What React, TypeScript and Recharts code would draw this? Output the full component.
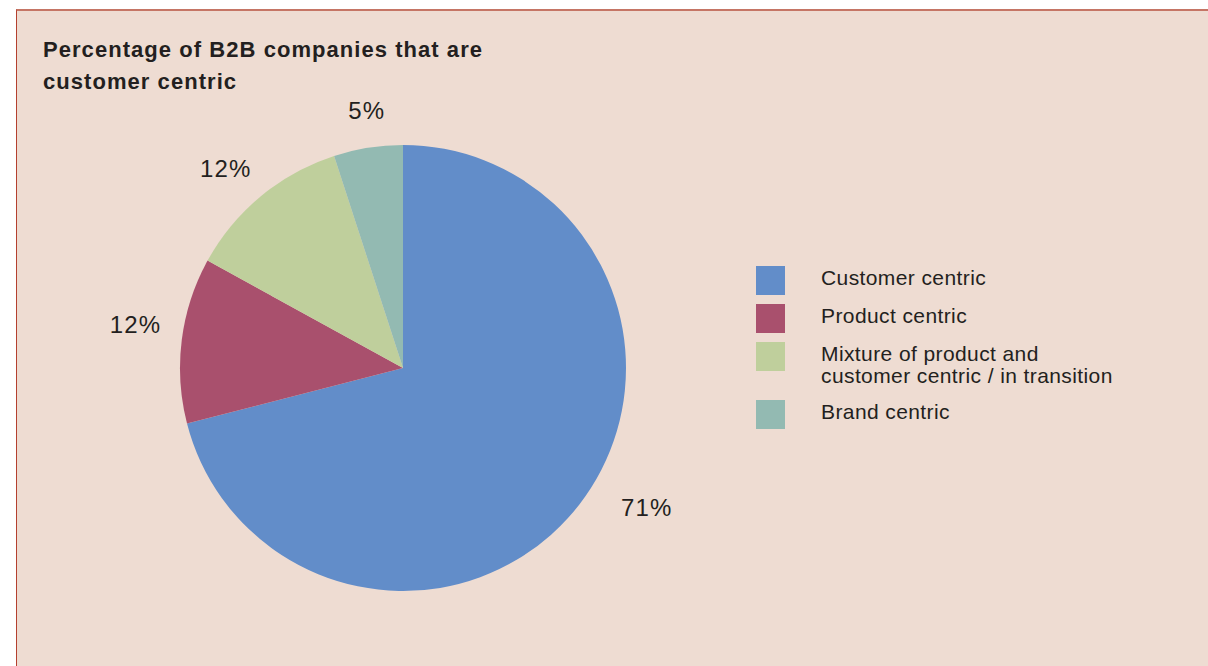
import React from "react";
import { PieChart, Pie, Cell, Legend } from "recharts";

const categories = [
  "Customer centric",
  "Product centric",
  "Mixture of product and\ncustomer centric / in transition",
  "Brand centric",
];
const shares = [71, 12, 12, 5];
const colors = ["#628dc9", "#a9506d", "#bfcf9c", "#93bab2"];

// label placement tweaks (distance beyond the rim, angle shift in degrees)
const labelGap = [58, 48, 44, 37];
const labelShift = [8, -2, 2, -1];

const data = categories.map((name, i) => ({ name, value: shares[i] }));

const RAD = Math.PI / 180;
const FONT = "'Liberation Sans', Arial, Helvetica, sans-serif";

const renderLabel = (props: any) => {
  const { cx, cy, midAngle, outerRadius, index, value } = props;
  const r = outerRadius + labelGap[index];
  const a = (midAngle + labelShift[index]) * RAD;
  const x = cx + r * Math.cos(-a);
  const y = cy + r * Math.sin(-a);
  return (
    <text
      x={x}
      y={y}
      fill="#231f20"
      fontSize={24}
      letterSpacing={1.2}
      fontFamily={FONT}
      textAnchor="middle"
      dominantBaseline="central"
    >
      {value}%
    </text>
  );
};

const LegendBox = () => (
  <div style={{ fontFamily: FONT, fontSize: 21, letterSpacing: 0.4, color: "#231f20" }}>
    {data.map((d, i) => {
      const lines = d.name.split("\n");
      return (
        <div
          key={d.name}
          style={{
            display: "flex",
            alignItems: "flex-start",
            height: lines.length > 1 ? 58 : 38,
          }}
        >
          <div
            style={{
              width: 29,
              height: 29,
              background: colors[i],
              flex: "none",
            }}
          />
          <div style={{ marginLeft: 36, lineHeight: "22px", paddingTop: 1 }}>
            {lines.map((l) => (
              <div key={l} style={{ whiteSpace: "nowrap" }}>{l}</div>
            ))}
          </div>
        </div>
      );
    })}
  </div>
);

export default function App() {
  return (
    <div
      style={{
        position: "fixed",
        left: 16,
        top: 9,
        width: 1192,
        height: 657,
        boxSizing: "border-box",
        background: "#eedcd2",
        borderLeft: "1px solid #b4402f",
        borderTop: "2px solid #c57565",
        overflow: "hidden",
      }}
    >
      <div
        style={{
          position: "absolute",
          left: 26,
          top: 23,
          fontFamily: FONT,
          fontWeight: "bold",
          fontSize: 22,
          letterSpacing: 1.05,
          lineHeight: "32px",
          color: "#231f20",
          whiteSpace: "nowrap",
        }}
      >
        Percentage of B2B companies that are
        <br />
        customer centric
      </div>
      <PieChart
        width={1190}
        height={655}
        margin={{ top: 0, right: 0, bottom: 0, left: 0 }}
        style={{ position: "absolute", left: 0, top: 0 }}
      >
        <Pie
          data={data}
          dataKey="value"
          nameKey="name"
          cx={386}
          cy={357}
          outerRadius={223}
          startAngle={90}
          endAngle={-270}
          stroke="none"
          label={renderLabel}
          labelLine={false}
          isAnimationActive={false}
        >
          {data.map((d, i) => (
            <Cell key={d.name} fill={colors[i]} />
          ))}
        </Pie>
        <Legend
          content={<LegendBox />}
          wrapperStyle={{ position: "absolute", left: 739, top: 255, width: 420 }}
        />
      </PieChart>
    </div>
  );
}
